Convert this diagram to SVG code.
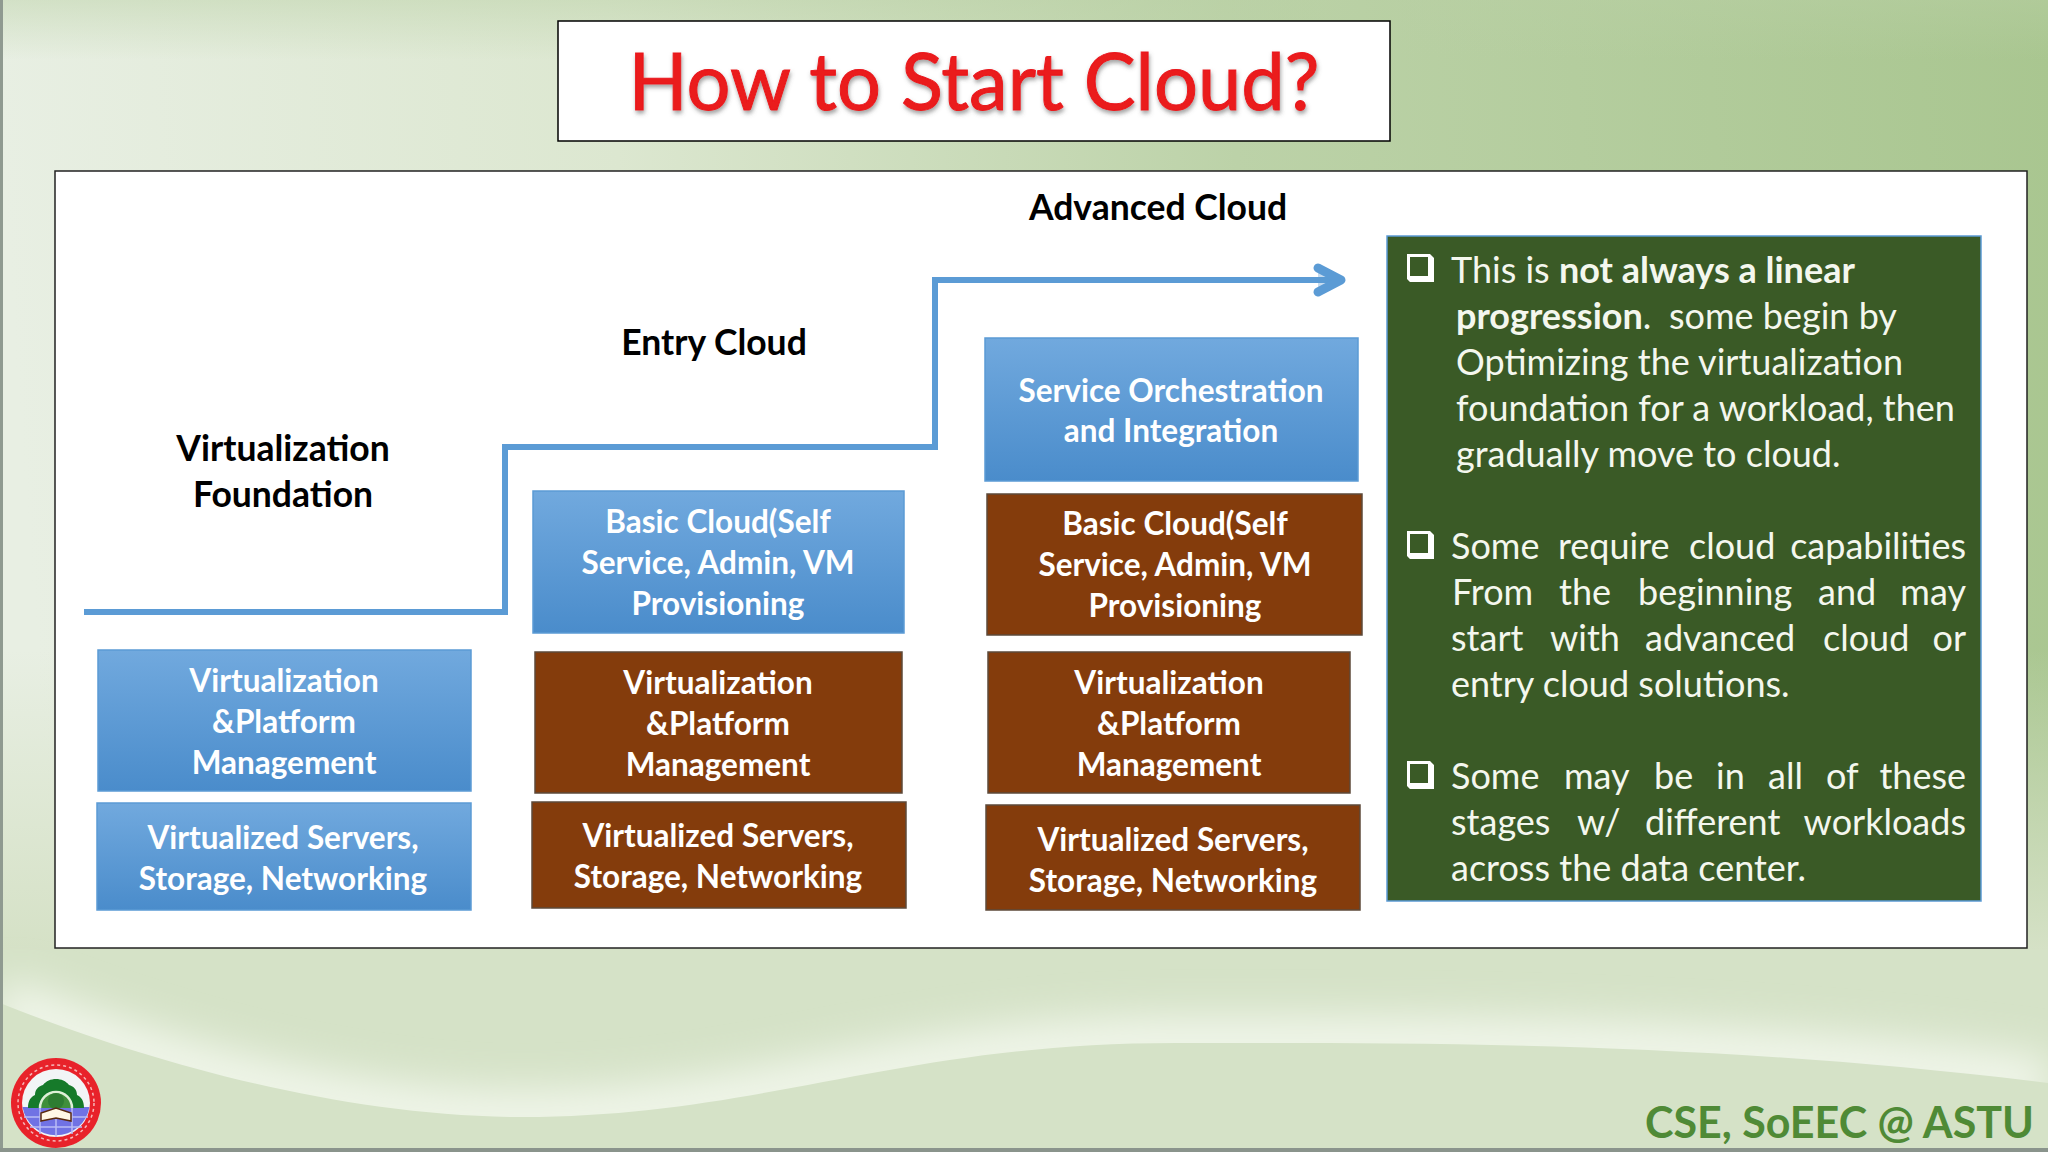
<svg xmlns="http://www.w3.org/2000/svg" width="2048" height="1152" viewBox="0 0 2048 1152">
<style>
.l{font-family:"Lato","Liberation Sans",sans-serif;font-weight:700;font-size:31.5px;text-anchor:middle;fill:#fff}
.h{font-family:"Lato","Liberation Sans",sans-serif;font-weight:700;font-size:35.5px;text-anchor:middle;fill:#000}
.p{font-family:"Lato","Liberation Sans",sans-serif;font-size:36px;fill:#f4f7ee}
.e{text-anchor:end}
.blue{fill:url(#bl);stroke:#5b9bd5;stroke-width:1.5}
.brown{fill:#843c0c;stroke:#5d4a3a;stroke-width:1.5}
.bul{fill:#fff;fill-rule:evenodd}
</style>
<defs>
<linearGradient id="bg" gradientUnits="userSpaceOnUse" x1="0" y1="150" x2="2048" y2="0"><stop offset="0" stop-color="#e8efe3"/><stop offset="0.3" stop-color="#dce7d0"/><stop offset="0.6" stop-color="#bcd2a8"/><stop offset="1" stop-color="#a9c690"/></linearGradient>
<linearGradient id="top" x1="0" y1="0" x2="0" y2="1"><stop offset="0" stop-color="#b9d0a4" stop-opacity="0.45"/><stop offset="1" stop-color="#b9d0a4" stop-opacity="0"/></linearGradient>
<linearGradient id="fade" x1="0" y1="0" x2="0" y2="1"><stop offset="0" stop-color="#d5e1c6" stop-opacity="0"/><stop offset="0.75" stop-color="#d5e1c6"/><stop offset="1" stop-color="#d5e1c6"/></linearGradient>
<linearGradient id="bl" x1="0" y1="0" x2="0" y2="1"><stop offset="0" stop-color="#71a9de"/><stop offset="1" stop-color="#4a8ccb"/></linearGradient>
<filter id="ts" x="-5%" y="-10%" width="110%" height="130%"><feDropShadow dx="1" dy="3" stdDeviation="2" flood-color="#555" flood-opacity="0.55"/></filter>
<filter id="glow" filterUnits="userSpaceOnUse" x="-100" y="900" width="2250" height="300"><feGaussianBlur stdDeviation="20"/></filter>
<filter id="soft"><feGaussianBlur stdDeviation="0.6"/></filter>
<clipPath id="above"><path d="M0 1003C130 1055 330 1117 522 1117C760 1117 900 1043 1175 1043C1400 1043 1700 1040 2048 1083V900H0Z"/></clipPath>
<marker id="arr" markerUnits="userSpaceOnUse" markerWidth="40" markerHeight="40" refX="30" refY="20" orient="auto"><path d="M7 8L30 20L7 32" fill="#5b9bd5" fill-opacity="0.35" stroke="#5b9bd5" stroke-width="9" stroke-linecap="round" stroke-linejoin="round"/></marker>
</defs>
<g id="background">
<rect width="2048" height="1152" fill="url(#bg)"/>
<rect width="2048" height="60" fill="url(#top)"/>
<rect y="650" width="2048" height="400" fill="url(#fade)"/>
<rect y="950" width="2048" height="202" fill="#d5e2c7"/>
<g clip-path="url(#above)"><path d="M0 1003C130 1055 330 1117 522 1117C760 1117 900 1043 1175 1043C1400 1043 1700 1040 2048 1083" fill="none" stroke="#f2f7ec" stroke-width="50" filter="url(#glow)"/></g>
<rect x="0" y="0" width="3" height="1152" fill="#8f9a90"/>
<rect x="0" y="1148" width="2048" height="4" fill="#8a948c"/>
</g>
<g id="title"><rect x="558" y="21" width="832" height="120" fill="#fff" stroke="#000" stroke-width="1.5"/>
<text x="974" y="110" font-family="Lato,'Liberation Sans',sans-serif" font-size="80" text-anchor="middle" fill="#ea1a1e" stroke="#ea1a1e" stroke-width="1" textLength="691" lengthAdjust="spacingAndGlyphs" filter="url(#ts)">How to Start Cloud?</text></g>
<rect id="panel" x="55" y="171" width="1972" height="777" fill="#fff" stroke="#222" stroke-width="1.5"/>
<g id="connectors"><path d="M84 612H505V447H935V280H1341" fill="none" stroke="#5b9bd5" stroke-width="6" marker-end="url(#arr)"/></g>
<g id="stage-labels">
<text class="h" x="283" y="461">Virtualization</text><text class="h" x="283" y="507">Foundation</text>
<text class="h" x="714" y="355">Entry Cloud</text>
<text class="h" x="1158" y="220">Advanced Cloud</text>
</g>
<g id="c1-mgmt"><rect class="blue" x="98" y="650" width="373" height="141"/><text class="l" x="284" y="692">Virtualization</text><text class="l" x="284" y="733">&amp;Platform</text><text class="l" x="284" y="774">Management</text></g>
<g id="c1-servers"><rect class="blue" x="97" y="803" width="374" height="107"/><text class="l" x="283" y="849">Virtualized Servers,</text><text class="l" x="283" y="890">Storage, Networking</text></g>
<g id="c2-basic"><rect class="blue" x="533" y="491" width="371" height="142"/><text class="l" x="718" y="533">Basic Cloud(Self</text><text class="l" x="718" y="574">Service, Admin, VM</text><text class="l" x="718" y="615">Provisioning</text></g>
<g id="c2-mgmt"><rect class="brown" x="535" y="652" width="367" height="141"/><text class="l" x="718" y="694">Virtualization</text><text class="l" x="718" y="735">&amp;Platform</text><text class="l" x="718" y="776">Management</text></g>
<g id="c2-servers"><rect class="brown" x="532" y="802" width="374" height="106"/><text class="l" x="718" y="847">Virtualized Servers,</text><text class="l" x="718" y="888">Storage, Networking</text></g>
<g id="c3-orch"><rect class="blue" x="985" y="338" width="373" height="143"/><text class="l" x="1171" y="402">Service Orchestration</text><text class="l" x="1171" y="442">and Integration</text></g>
<g id="c3-basic"><rect class="brown" x="987" y="494" width="375" height="141"/><text class="l" x="1175" y="535">Basic Cloud(Self</text><text class="l" x="1175" y="576">Service, Admin, VM</text><text class="l" x="1175" y="617">Provisioning</text></g>
<g id="c3-mgmt"><rect class="brown" x="988" y="652" width="362" height="141"/><text class="l" x="1169" y="694">Virtualization</text><text class="l" x="1169" y="735">&amp;Platform</text><text class="l" x="1169" y="776">Management</text></g>
<g id="c3-servers"><rect class="brown" x="986" y="805" width="374" height="105"/><text class="l" x="1173" y="851">Virtualized Servers,</text><text class="l" x="1173" y="892">Storage, Networking</text></g>
<g id="notes"><rect x="1387" y="236" width="594" height="665" fill="#3a5a26" stroke="#5b9bd5" stroke-width="1.5"/>
<text class="p"><tspan x="1451" y="283">This is </tspan><tspan font-weight="700">not always a linear</tspan>
<tspan x="1456" y="329" font-weight="700">progression</tspan><tspan>.</tspan><tspan x="1669">some begin by</tspan>
<tspan x="1456" y="375">Optimizing the virtualization</tspan>
<tspan x="1456" y="421">foundation for a workload, then</tspan>
<tspan x="1456" y="467">gradually move to cloud.</tspan></text>
<text class="p" y="559"><tspan x="1451">Some</tspan><tspan x="1558">require</tspan><tspan x="1689">cloud</tspan></text><text class="p e" x="1966" y="559">capabilities</text>
<text class="p" y="605"><tspan x="1452">From</tspan><tspan x="1559">the</tspan><tspan x="1638">beginning</tspan><tspan x="1818">and</tspan></text><text class="p e" x="1966" y="605">may</text>
<text class="p" y="651"><tspan x="1451">start</tspan><tspan x="1550">with</tspan><tspan x="1645">advanced</tspan><tspan x="1823">cloud</tspan></text><text class="p e" x="1966" y="651">or</text>
<text class="p" x="1451" y="697">entry cloud solutions.</text>
<text class="p" y="789"><tspan x="1451">Some</tspan><tspan x="1564">may</tspan><tspan x="1654">be</tspan><tspan x="1716">in</tspan><tspan x="1768">all</tspan><tspan x="1826">of</tspan></text><text class="p e" x="1966" y="789">these</text>
<text class="p" y="835"><tspan x="1451">stages</tspan><tspan x="1577">w/</tspan><tspan x="1645">different</tspan></text><text class="p e" x="1966" y="835">workloads</text>
<text class="p" x="1451" y="881">across the data center.</text>
<path class="bul" d="M1407 254h23l4 4v24h-24l-3-3zM1410 257v19h18v-19z"/>
<path class="bul" d="M1407 531h23l4 4v24h-24l-3-3zM1410 534v19h18v-19z"/>
<path class="bul" d="M1407 761h23l4 4v24h-24l-3-3zM1410 764v19h18v-19z"/>
</g>
<g id="footer"><text x="2034" y="1138" font-family="Lato,'Liberation Sans',sans-serif" font-weight="700" font-size="43" text-anchor="end" fill="#4f8a36">CSE, SoEEC @ ASTU</text></g>
<g id="logo" filter="url(#soft)"><circle cx="56" cy="1103" r="45" fill="#e8222c"/><circle cx="56" cy="1103" r="38" fill="none" stroke="#f6b8b8" stroke-width="1.5" stroke-dasharray="3 3"/><circle cx="56" cy="1103" r="34" fill="#f2f5f6"/>
<path d="M22.500 1107H89.500A34 34 0 0 1 22.500 1107Z" fill="#6f72e4"/>
<path d="M24 1117H88M30 1127H82M56 1107V1137M40 1107V1134M72 1107V1134" stroke="#b9bcf5" stroke-width="1.5" fill="none"/>
<path d="M28 1108c0-8 3-11 7-13c0-6 4-9 8-10c3-4 8-6 13-6s10 2 13 6c4 1 8 4 8 10c4 2 7 5 7 13z" fill="#147a2a"/>
<path d="M40 1108A16 16 0 0 1 72 1108" fill="#3f8f3a" stroke="#dff0d8" stroke-width="2.500"/>
<circle cx="56" cy="1101" r="8" fill="#2f7d33"/>
<path d="M41 1121l15-3l15 3v-8l-15-5l-15 5z" fill="#fff7e6" stroke="#5a2a10" stroke-width="1.500"/></g>
</svg>
